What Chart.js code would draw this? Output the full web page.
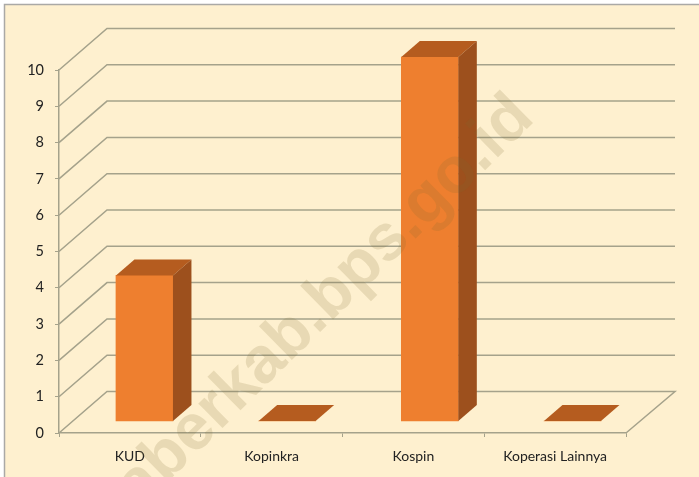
<!DOCTYPE html>
<html><head><meta charset="utf-8">
<style>html,body{margin:0;padding:0;background:#fff}canvas{display:block}</style>
<script src="https://cdn.jsdelivr.net/npm/chart.js@4"></script>
</head><body><canvas id="c" width="699" height="477"></canvas>
<script>
const categories = ["KUD", "Kopinkra", "Kospin", "Koperasi Lainnya"];
const values = [4, 0, 10, 0];
const watermark = "aberkab.bps.go.id";

const depth = {wallX: 48, wallY: 41.5, barX: 18.5, barY: 16};
const gridColor = "#a5a28b";
const cream = "#fef0cf";

const scene = {
  id: "scene",
  beforeDraw(chart) {
    const c = chart.ctx;
    c.save();
    c.fillStyle = "#ffffff"; c.fillRect(0, 0, 699, 477);
    c.fillStyle = cream; c.fillRect(4, 4, 695, 473);
    c.strokeStyle = "#aaa9a6"; c.lineWidth = 1.5;
    c.beginPath(); c.moveTo(4.5, 477); c.lineTo(4.5, 4.5); c.lineTo(699, 4.5); c.stroke();
    c.restore();
  },
  beforeDatasetsDraw(chart) {
    const c = chart.ctx, y = chart.scales.y, a = chart.chartArea;
    c.save();
    c.strokeStyle = gridColor; c.lineWidth = 1.5;
    y.ticks.forEach(t => {
      const p = y.getPixelForValue(t.value);
      c.beginPath();
      c.moveTo(a.left, p);
      c.lineTo(a.left + depth.wallX, p - depth.wallY);
      c.lineTo(a.right + depth.wallX + 1, p - depth.wallY);
      if (t.value === 0) c.lineTo(a.right, p);
      c.stroke();
    });
    c.restore();
  },
  afterDatasetsDraw(chart) {
    const c = chart.ctx;
    c.save();
    chart.getDatasetMeta(0).data.forEach(el => {
      const l = el.x - el.width / 2, r = el.x + el.width / 2, t = el.y, b = el.base;
      c.fillStyle = "#b55c1f";
      c.beginPath(); c.moveTo(l, t); c.lineTo(r, t);
      c.lineTo(r + depth.barX, t - depth.barY); c.lineTo(l + depth.barX, t - depth.barY);
      c.closePath(); c.fill();
      if (b - t > 0.5) {
        c.fillStyle = "#9d501d";
        c.beginPath(); c.moveTo(r, t); c.lineTo(r + depth.barX, t - depth.barY);
        c.lineTo(r + depth.barX, b - depth.barY); c.lineTo(r, b);
        c.closePath(); c.fill();
      }
    });
    c.restore();
  },
  afterDraw(chart) {
    const c = chart.ctx;
    c.save();
    c.translate(536, 120);
    c.rotate(-44.5 * Math.PI / 180);
    c.font = "bold 65px 'Liberation Sans'";
    c.textAlign = "right";
    c.textBaseline = "alphabetic";
    c.fillStyle = "rgba(125,105,50,0.17)";
    c.fillText(watermark, 0, 0);
    c.restore();
  }
};

new Chart(document.getElementById("c"), {
  type: "bar",
  data: {
    labels: categories,
    datasets: [{
      data: values.map((v, i) => ({x: i, y: v})),
      xAxisID: "barX", yAxisID: "barY",
      backgroundColor: "#ee7f2f",
      barThickness: 57, grouped: false, clip: false, borderWidth: 0
    }]
  },
  options: {
    responsive: false, animation: false, events: [],
    layout: {padding: {left: 0, top: 70, right: 73, bottom: 0}},
    plugins: {legend: {display: false}, title: {display: false}, tooltip: {enabled: false}},
    scales: {
      x: {
        type: "category", position: "bottom", offset: true,
        afterFit(s) { s.height = 44; },
        grid: {drawOnChartArea: false, drawTicks: true, tickLength: 4, color: gridColor, offset: true},
        border: {color: gridColor, width: 1.5},
        ticks: {color: "#222", padding: 11, maxRotation: 0, font: {family: "Lato", size: 14}}
      },
      y: {
        type: "linear", position: "left", min: 0, max: 10,
        afterFit(s) { s.width = 59; },
        grid: {drawOnChartArea: false, drawTicks: true, tickLength: 4, color: gridColor},
        border: {color: gridColor, width: 1.5},
        ticks: {stepSize: 1, color: "#222", padding: 11, font: {family: "Lato", size: 14.5}}
      },
      barX: {type: "linear", display: false, offset: false, min: -0.599, max: 3.375, grid: {offset: false}},
      barY: {type: "linear", display: false, min: -0.33, max: 9.643}
    }
  },
  plugins: [scene]
});
</script></body></html>
